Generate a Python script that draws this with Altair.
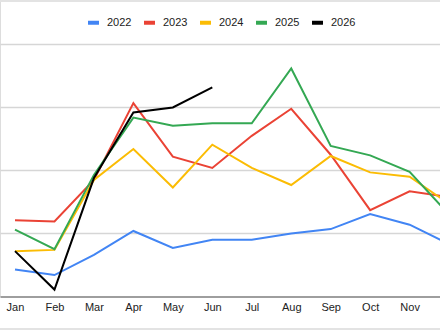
import altair as alt
import pandas as pd

months = ["Jan", "Feb", "Mar", "Apr", "May", "Jun",
          "Jul", "Aug", "Sep", "Oct", "Nov", "Dec"]

y2022 = [4.3, 3.4, 6.6, 10.4, 7.7, 9.0, 9.0, 10.0, 10.7, 13.1, 11.4, 8.3]
y2023 = [12.1, 11.9, 18.5, 30.7, 22.2, 20.4, 25.5, 29.8, 22.5, 13.7, 16.7, 15.8]
y2024 = [7.2, 7.4, 18.5, 23.4, 17.3, 24.1, 20.4, 17.7, 22.3, 19.7, 19.0, 14.7]
y2025 = [10.6, 7.5, 19.3, 28.4, 27.1, 27.5, 27.5, 36.2, 23.9, 22.4, 19.8, 13.0]
y2026 = [7.2, 1.1, 18.8, 29.2, 30.0, 33.2]

series = {"2022": y2022, "2023": y2023, "2024": y2024, "2025": y2025, "2026": y2026}
years = list(series.keys())
colors = ["#4285F4", "#EA4335", "#FBBC04", "#34A853", "#000000"]

rows = []
for year, vals in series.items():
    for i, v in enumerate(vals):
        rows.append({"year": year, "m": i + 1, "month": months[i], "value": v})
df = pd.DataFrame(rows)

FONT = "Liberation Sans"

lines = alt.Chart(df).mark_line(strokeWidth=2, clip=True).encode(
    x=alt.X("m:Q",
            scale=alt.Scale(domain=[0.62, 11.77], nice=False, zero=False),
            axis=alt.Axis(values=list(range(1, 12)), grid=False, ticks=False,
                          domain=True, domainColor="#9e9e9e", domainWidth=2,
                          labelExpr="['Jan','Feb','Mar','Apr','May','Jun','Jul','Aug','Sep','Oct','Nov','Dec'][datum.value-1]",
                          labelFont=FONT, labelFontSize=11, labelColor="#222222",
                          labelPadding=5, title=None)),
    y=alt.Y("value:Q",
            scale=alt.Scale(domain=[0, 47.06], nice=False),
            axis=alt.Axis(values=[10, 20, 30, 40], labels=False, ticks=False,
                          domain=False, gridColor="#d6d6d6", gridWidth=1.5,
                          title=None)),
    color=alt.Color("year:N",
                    scale=alt.Scale(domain=years, range=colors),
                    legend=alt.Legend(orient="none", legendX=86, legendY=15,
                                      direction="horizontal", title=None,
                                      symbolType="stroke", symbolStrokeWidth=4,
                                      symbolSize=120, labelFont=FONT,
                                      labelFontSize=11, labelColor="#222222",
                                      labelOffset=6, columnPadding=4)),
    detail="year:N",
)

# thin frame lines above and below the chart area
frame = alt.Chart(pd.DataFrame({"p": [1, 329]})).mark_rule(
    color="#e3e3e3", strokeWidth=2
).encode(y=alt.Y("p:Q", scale=None), x=alt.value(0), x2=alt.value(440))

chart = alt.layer(frame, lines).properties(
    width=440, height=296.5,
    padding={"left": 0, "top": 0, "right": 0, "bottom": 33.5},
    autosize=alt.AutoSizeParams(type="none"),
).configure_view(stroke=None).configure(background="white")

chart.save("out.html", embed_options={"renderer": "svg", "actions": False})
